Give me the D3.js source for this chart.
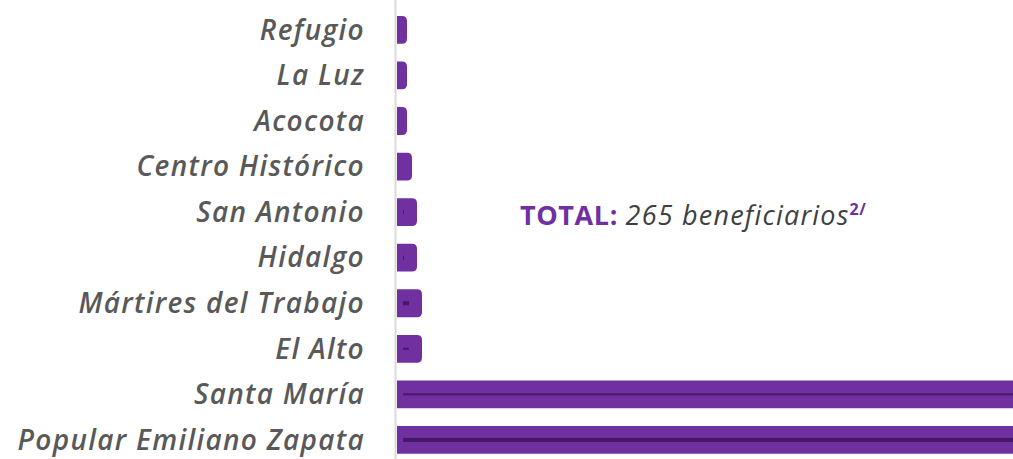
<!DOCTYPE html>
<html>
<head>
<meta charset="utf-8">
<script src="https://cdn.jsdelivr.net/npm/d3@7"></script>
<style>
  body { margin: 0; background: #fff; }
  svg { display: block; }
</style>
</head>
<body>
<svg id="chart" width="1013" height="459"></svg>
<script>
// data
let colonias = ["Refugio", "La Luz", "Acocota", "Centro Histórico", "San Antonio",
  "Hidalgo", "Mártires del Trabajo", "El Alto", "Santa María", "Popular Emiliano Zapata"];
let beneficiarios = [2, 2, 2, 3, 4, 4, 5, 5, 128, 131];
// thin dark inner series
let innerValues = [0, 0, 0, 0, 0.2, 0.2, 1.2, 1.2, 200, 200];
let totalValue = 265;

let svg = d3.select("#chart");
let W = 1013, H = 459;

// Scales:
let xScale = d3.scaleLinear()
  .domain([0, 1])
  .range([397, 402]);

let yScale = d3.scaleBand()
  .domain(colonias)
  .range([6.9, 462.9])
  .paddingInner(0.39)
  .paddingOuter(0.2);

let bh = yScale.bandwidth();

// axis line
svg.append("line")
  .attr("x1", 395.5).attr("x2", 395.5)
  .attr("y1", 0).attr("y2", H)
  .attr("stroke", "#d9d9d9")
  .attr("stroke-width", 2);

// bars with rounded right end
function barPath(x0, x1, y, h, r) {
  let w = x1 - x0;
  r = Math.min(r, w / 2, h / 2);
  return `M${x0},${y}H${x1 - r}Q${x1},${y} ${x1},${y + r}V${y + h - r}Q${x1},${y + h} ${x1 - r},${y + h}H${x0}Z`;
}

let rows = colonias.map((c, i) => ({ name: c, v: beneficiarios[i], inner: innerValues[i], idx: i }));

svg.selectAll(".bar")
  .data(rows)
  .enter()
  .append("path")
  .attr("class", "bar")
  .attr("fill", "#7030a0")
  .attr("d", d => barPath(xScale(0), xScale(d.v), yScale(d.name), bh, 5));

// inner dark marks
let innerH = [0, 0, 0, 0, 4, 4, 4, 2, 2, 4];
svg.selectAll(".inner")
  .data(rows.filter(d => d.inner > 0))
  .enter()
  .append("rect")
  .attr("class", "inner")
  .attr("fill", "#461868")
  .attr("x", xScale(0) + 6)
  .attr("width", d => Math.max(1, xScale(d.inner) - xScale(0)))
  .attr("y", d => yScale(d.name) + bh / 2 - innerH[d.idx] / 2)
  .attr("height", d => innerH[d.idx]);

// category labels
svg.selectAll(".lab")
  .data(colonias)
  .enter()
  .append("text")
  .attr("class", "lab")
  .attr("x", 365)
  .attr("y", d => yScale(d) + bh / 2)
  .attr("dy", "0.35em")
  .attr("text-anchor", "end")
  .attr("font-family", "'Open Sans', sans-serif")
  .attr("font-style", "italic")
  .attr("font-weight", 600)
  .attr("font-size", 28)
  .attr("letter-spacing", 1.3)
  .attr("fill", "#595959")
  .text(d => d);

// total annotation
let tot = svg.append("text")
  .attr("x", 520)
  .attr("y", 225)
  .attr("font-family", "'Open Sans', sans-serif")
  .attr("font-size", 27)
  .attr("letter-spacing", 0.6);
tot.append("tspan")
  .attr("font-weight", "bold")
  .attr("fill", "#7030a0")
  .text("TOTAL: ");
tot.append("tspan")
  .attr("font-style", "italic")
  .attr("fill", "#404040")
  .attr("letter-spacing", 1.2)
  .text(totalValue + " beneficiarios");
tot.append("tspan")
  .attr("font-weight", "bold")
  .attr("fill", "#7030a0")
  .attr("font-size", 16)
  .attr("dy", -10)
  .text("2/");
</script>
</body>
</html>
